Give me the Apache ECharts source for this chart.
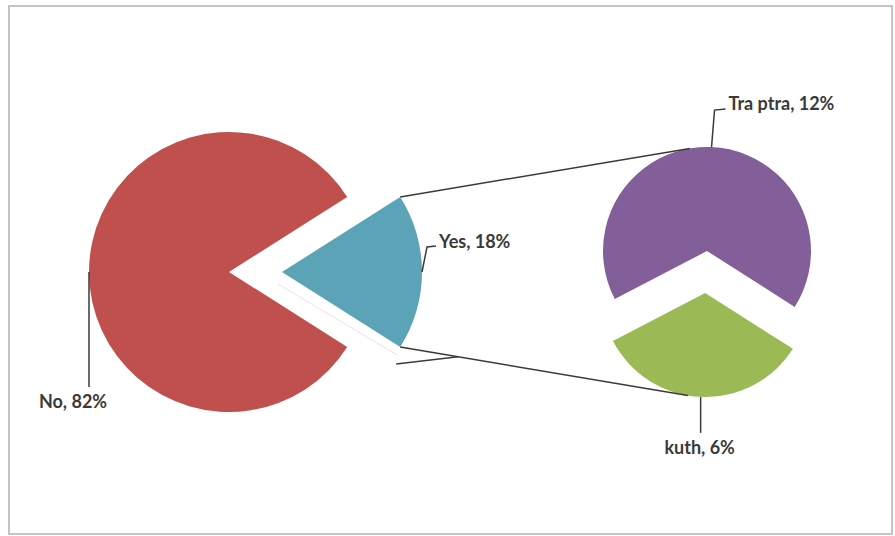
<!DOCTYPE html>
<html><head><meta charset="utf-8">
<script src="https://cdn.jsdelivr.net/npm/echarts@6/dist/echarts.min.js"></script>
<style>html,body{margin:0;padding:0;background:#fff}#c{width:895px;height:536px}</style>
</head><body><div id="c"></div>
<script>
// ---- data ----
const mainCategories = ['Yes', 'No'];
const mainValues = [18, 82];
const subCategories = ['Tra ptra', 'kuth'];
const subValues = [12, 6];

// ---- layout / style ----
const C1 = [229, 272], R1 = 140, OFF1 = 53;
const C2 = [707, 251], R2 = 104, OFF2 = 42;
const SUB_TILT = 2.5;
const mainColors = ['#5ba3b6', '#c0504d'];
const subColors = ['#835f99', '#9bb955'];
const LINE = '#3a3a3a';
const TEXT_FONT = 'bold 18px Lato';

const rad = d => d * Math.PI / 180;
const pt = (c, r, a) => [c[0] + r * Math.cos(rad(a)), c[1] - r * Math.sin(rad(a))];
const labelText = (n, v) => n + ', ' + v + '%';

const mainTotal = mainValues.reduce((a, b) => a + b, 0);
const yesHalf = mainValues[0] / mainTotal * 180;           // Yes centred on 0deg
const apex1 = pt(C1, OFF1, 0);
const subTotal = subValues.reduce((a, b) => a + b, 0);
const kuthArc = subValues[1] / subTotal * 360;
const kuthBis = -90 - SUB_TILT;
const subStart = kuthBis + 360 - kuthArc / 2;
const traBis = kuthBis + 180;
const apex2 = pt(C2, OFF2, kuthBis);

// label anchor points (bisector points on arcs)
const yesArc = pt(apex1, R1, 0);
const noArc = pt(C1, R1, 180);
const traArc = pt(C2, R2, traBis);
const kuthArcPt = pt(apex2, R2, kuthBis);

const labelDefs = [
  { text: labelText(mainCategories[0], mainValues[0]), x: yesArc[0] + 17, y: yesArc[1] - 31, align: 'left',
    pts: [yesArc, [yesArc[0] + 5, yesArc[1] - 25], [yesArc[0] + 14, yesArc[1] - 26]] },
  { text: labelText(mainCategories[1], mainValues[1]), x: noArc[0] - 16, y: noArc[1] + 129, align: 'center',
    pts: [noArc, [noArc[0], noArc[1] + 115]] },
  { text: labelText(subCategories[0], subValues[0]), x: traArc[0] + 17, y: traArc[1] - 44, align: 'left',
    pts: [traArc, [traArc[0] + 3, traArc[1] - 37], [traArc[0] + 14, traArc[1] - 38]] },
  { text: labelText(subCategories[1], subValues[1]), x: kuthArcPt[0] - 1, y: kuthArcPt[1] + 50, align: 'center',
    pts: [kuthArcPt, [kuthArcPt[0], kuthArcPt[1] + 36]] }
];

// connector tangent lines
function tangent(P, C, R, upper) {
  const dx = C[0] - P[0], dy = C[1] - P[1];
  const dist = Math.hypot(dx, dy);
  const th = Math.atan2(dy, dx), h = Math.asin(R / dist);
  const a = upper ? th - h : th + h;
  const L = Math.sqrt(dist * dist - R * R);
  return [P[0] + L * Math.cos(a), P[1] + L * Math.sin(a)];
}
const yesTop = pt(apex1, R1, yesHalf);
const yesBot = pt(apex1, R1, -yesHalf);
const tTop = tangent(yesTop, C2, R2, true);
const tBot = tangent(yesBot, apex2, R2, false);
const slope = (tBot[1] - yesBot[1]) / (tBot[0] - yesBot[0]);
const joinPt = [yesBot[0] + 58, yesBot[1] + 58 * slope];

const lineEl = (points, stroke, w, z) => ({ type: 'polyline', shape: { points }, style: { stroke, lineWidth: w, fill: 'none' }, z, silent: true });

const graphics = [
  { type: 'rect', shape: { x: 9, y: 6, width: 883, height: 528 }, style: { fill: 'none', stroke: '#c4c4c4', lineWidth: 2 }, z: 0, silent: true },
  lineEl([yesTop, tTop], LINE, 1.5, 10),
  lineEl([yesBot, tBot], LINE, 1.5, 10),
  lineEl([[yesBot[0] - 4, yesBot[1] + 17], joinPt], LINE, 1.5, 10),
  lineEl([[apex1[0] - 4, apex1[1] + 12], [yesBot[0] - 3, yesBot[1] + 8]], '#eee2e2', 1, 1)
];
labelDefs.forEach(d => {
  graphics.push(lineEl(d.pts, LINE, 1.5, 10));
  graphics.push({ type: 'text', x: d.x, y: d.y, z: 11, silent: true,
    style: { text: d.text, font: TEXT_FONT, fill: '#3a3a3a', textAlign: d.align, textVerticalAlign: 'middle' } });
});

const chart = echarts.init(document.getElementById('c'), null, { renderer: 'svg' });
const pieCommon = {
  type: 'pie', selectedMode: 'multiple', avoidLabelOverlap: false, silent: true,
  emphasis: { disabled: true }, animation: false, clockwise: true,
  label: { show: false }, labelLine: { show: false }
};
chart.setOption({
  animation: false,
  graphic: graphics,
  series: [
    Object.assign({}, pieCommon, {
      center: C1, radius: R1, startAngle: yesHalf, selectedOffset: OFF1,
      data: mainCategories.map((n, i) => ({ name: n, value: mainValues[i], selected: i === 0, itemStyle: { color: mainColors[i] } }))
    }),
    Object.assign({}, pieCommon, {
      center: C2, radius: R2, startAngle: subStart, selectedOffset: OFF2,
      data: subCategories.map((n, i) => ({ name: n, value: subValues[i], selected: i === 1, itemStyle: { color: subColors[i] } }))
    })
  ]
});
</script></body></html>
